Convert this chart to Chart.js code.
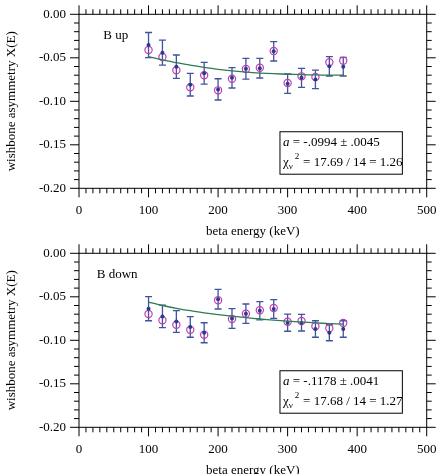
<!DOCTYPE html>
<html>
<head>
<meta charset="utf-8">
<script src="https://cdn.jsdelivr.net/npm/chart.js@4.4.0/dist/chart.umd.min.js"></script>
<style>
body { margin: 0; background: #fff; overflow: hidden; width: 440px; height: 474px; }
canvas { position: absolute; left: 0; }
#upper { top: 0; }
#lower { top: 239px; }
</style>
</head>
<body>
<canvas id="upper" width="440" height="239"></canvas>
<canvas id="lower" width="440" height="239"></canvas>
<script>
// beta energy (keV)
const energies = [100, 120, 140, 160, 180, 200, 220, 240, 260, 280, 300, 320, 340, 360, 380];

// B up
const upDots = [-0.0353, -0.0441, -0.0602, -0.0809, -0.0677, -0.0863, -0.0730, -0.0625, -0.0619, -0.0426, -0.0797, -0.0730, -0.0748, -0.0598, -0.0602];
const upErrs = [0.0144, 0.0144, 0.0134, 0.0130, 0.0125, 0.0122, 0.0117, 0.0119, 0.0113, 0.0111, 0.0111, 0.0109, 0.0107, 0.0111, 0.0107];
const upCircles = [-0.0410, -0.0491, -0.0644, -0.0839, -0.0701, -0.0874, -0.0740, -0.0629, -0.0614, -0.0422, -0.0790, -0.0713, -0.0721, -0.0552, -0.0533];
const upFit = [-0.0487, -0.0525, -0.0556, -0.0585, -0.0610, -0.0632, -0.0650, -0.0664, -0.0675, -0.0683, -0.0689, -0.0694, -0.0697, -0.0699, -0.0700];

// B down
const downDots = [-0.0637, -0.0725, -0.0784, -0.0847, -0.0913, -0.0527, -0.0749, -0.0694, -0.0661, -0.0640, -0.0797, -0.0797, -0.0870, -0.0913, -0.0870];
const downErrs = [0.0138, 0.0130, 0.0124, 0.0118, 0.0115, 0.0113, 0.0113, 0.0111, 0.0105, 0.0107, 0.0099, 0.0096, 0.0095, 0.0092, 0.0095];
const downCircles = [-0.0698, -0.0770, -0.0821, -0.0878, -0.0936, -0.0540, -0.0755, -0.0694, -0.0655, -0.0629, -0.0786, -0.0778, -0.0839, -0.0862, -0.0801];
const downFit = [-0.0560, -0.0600, -0.0632, -0.0660, -0.0685, -0.0705, -0.0722, -0.0740, -0.0755, -0.0768, -0.0780, -0.0790, -0.0800, -0.0808, -0.0815];

const serif = "'Liberation Serif', 'Times New Roman', serif";

function pts(ys) {
    return energies.map((e, i) => ({ x: e, y: ys[i] }));
}

// error bars under the points
const errorBars = {
    id: 'errorBars',
    beforeDatasetsDraw(chart) {
        const ctx = chart.ctx;
        const xs = chart.scales.x, ys = chart.scales.y;
        chart.data.datasets.forEach(ds => {
            if (!ds.errors) return;
            ctx.save();
            ctx.strokeStyle = '#41529e';
            ctx.lineWidth = 1.3;
            ds.data.forEach((p, i) => {
                const px = xs.getPixelForValue(p.x);
                const top = ys.getPixelForValue(p.y + ds.errors[i]);
                const bot = ys.getPixelForValue(p.y - ds.errors[i]);
                ctx.beginPath();
                ctx.moveTo(px, top); ctx.lineTo(px, bot);
                ctx.moveTo(px - 3.5, top); ctx.lineTo(px + 3.5, top);
                ctx.moveTo(px - 3.5, bot); ctx.lineTo(px + 3.5, bot);
                ctx.stroke();
            });
            ctx.restore();
        });
    }
};

// frame, minor ticks and the text box
const frame = {
    id: 'frame',
    afterDraw(chart, args, opts) {
        const ctx = chart.ctx;
        const a = chart.chartArea;
        const xs = chart.scales.x, ys = chart.scales.y;
        ctx.save();
        ctx.strokeStyle = '#000';
        ctx.lineWidth = 1;
        ctx.strokeRect(a.left, a.top, a.right - a.left, a.bottom - a.top);
        ctx.beginPath();
        for (let k = 0; k <= 50; k++) {
            const px = xs.getPixelForValue(k * 10);
            const len = k % 10 === 0 ? 9 : 5;
            ctx.moveTo(px, a.bottom); ctx.lineTo(px, a.bottom + len);
            ctx.moveTo(px, a.top); ctx.lineTo(px, a.top - len);
        }
        for (let k = 0; k <= 20; k++) {
            const py = ys.getPixelForValue(-k * 0.01);
            const len = k % 5 === 0 ? 9 : 5;
            ctx.moveTo(a.left, py); ctx.lineTo(a.left - len, py);
            ctx.moveTo(a.right, py); ctx.lineTo(a.right + len, py);
        }
        ctx.stroke();

        // panel label
        ctx.fillStyle = '#000';
        ctx.font = '13px ' + serif;
        ctx.textBaseline = 'middle';
        ctx.fillText(opts.label, xs.getPixelForValue(opts.labelAt[0]), ys.getPixelForValue(opts.labelAt[1]));

        // fit result box
        const bx0 = xs.getPixelForValue(289), bx1 = xs.getPixelForValue(465);
        const by0 = ys.getPixelForValue(-0.135), by1 = ys.getPixelForValue(-0.1838);
        ctx.fillStyle = '#fff';
        ctx.fillRect(bx0, by0, bx1 - bx0, by1 - by0);
        ctx.strokeRect(bx0, by0, bx1 - bx0, by1 - by0);
        ctx.fillStyle = '#000';
        ctx.textBaseline = 'alphabetic';
        let tx = bx0 + 3;
        const l1 = by0 + 14, l2 = by0 + 34;
        ctx.font = 'italic 13px ' + serif;
        ctx.fillText('a', tx, l1);
        const aw = ctx.measureText('a').width;
        ctx.font = '13px ' + serif;
        ctx.fillText(' = ' + opts.aText, tx + aw, l1);
        ctx.fillText('\u03c7', tx, l2);
        const cw = ctx.measureText('\u03c7').width;
        ctx.font = '9px ' + serif;
        ctx.fillText('\u03bd', tx + cw, l2 + 3);
        const nw = ctx.measureText('\u03bd').width;
        ctx.fillText('2', tx + cw + nw + 2, l2 - 7);
        ctx.font = '13px ' + serif;
        ctx.fillText(' = ' + opts.chiText, tx + cw + nw + 7, l2);
        ctx.restore();
    }
};

function makeChart(el, dots, errs, circles, fit, label, labelAt, aText, chiText) {
    return new Chart(el, {
        type: 'scatter',
        data: {
            datasets: [{
                data: pts(fit),
                showLine: true,
                borderColor: '#2f7b55',
                borderWidth: 1.3,
                pointRadius: 0,
                tension: 0.3
            }, {
                data: pts(dots),
                errors: errs,
                pointRadius: 2,
                pointBackgroundColor: '#2b3a8c',
                pointBorderColor: '#2b3a8c',
                pointBorderWidth: 0
            }, {
                data: pts(circles),
                pointRadius: 3.6,
                pointBackgroundColor: 'rgba(0,0,0,0)',
                pointBorderColor: '#c03cb2',
                pointBorderWidth: 1.2
            }]
        },
        options: {
            responsive: false,
            animation: false,
            devicePixelRatio: 1,
            layout: { padding: { top: 14.3, right: 13.3, left: 0, bottom: 0 } },
            plugins: {
                legend: { display: false },
                tooltip: { enabled: false },
                frame: { label: label, labelAt: labelAt, aText: aText, chiText: chiText }
            },
            scales: {
                x: {
                    type: 'linear',
                    min: 0,
                    max: 500,
                    afterFit: s => { s.height = 239 - 188.3; s.paddingLeft = 0; s.paddingRight = 0; },
                    grid: { display: false, drawTicks: false },
                    border: { display: false },
                    ticks: { stepSize: 100, padding: 14, color: '#000', font: { family: serif, size: 13 } },
                    title: { display: true, text: 'beta energy (keV)', color: '#000', padding: { top: 0, bottom: 0 }, font: { family: serif, size: 13 } }
                },
                y: {
                    min: -0.2,
                    max: 0,
                    afterFit: s => { s.width = 79; s.paddingTop = 0; s.paddingBottom = 0; },
                    grid: { display: false, drawTicks: false },
                    border: { display: false },
                    ticks: { stepSize: 0.05, padding: 13, color: '#000', font: { family: serif, size: 13 },
                        callback: v => v.toFixed(2) },
                    title: { display: true, text: 'wishbone asymmetry X(E)', color: '#000', padding: { top: 4, bottom: 0 }, font: { family: serif, size: 13 } }
                }
            }
        },
        plugins: [errorBars, frame]
    });
}

makeChart(document.getElementById('upper'), upDots, upErrs, upCircles, upFit,
    'B up', [35, -0.025], '-.0994 \u00b1 .0045', '17.69 / 14 = 1.26');
makeChart(document.getElementById('lower'), downDots, downErrs, downCircles, downFit,
    'B down', [25.5, -0.025], '-.1178 \u00b1 .0041', '17.68 / 14 = 1.27');
</script>
</body>
</html>
